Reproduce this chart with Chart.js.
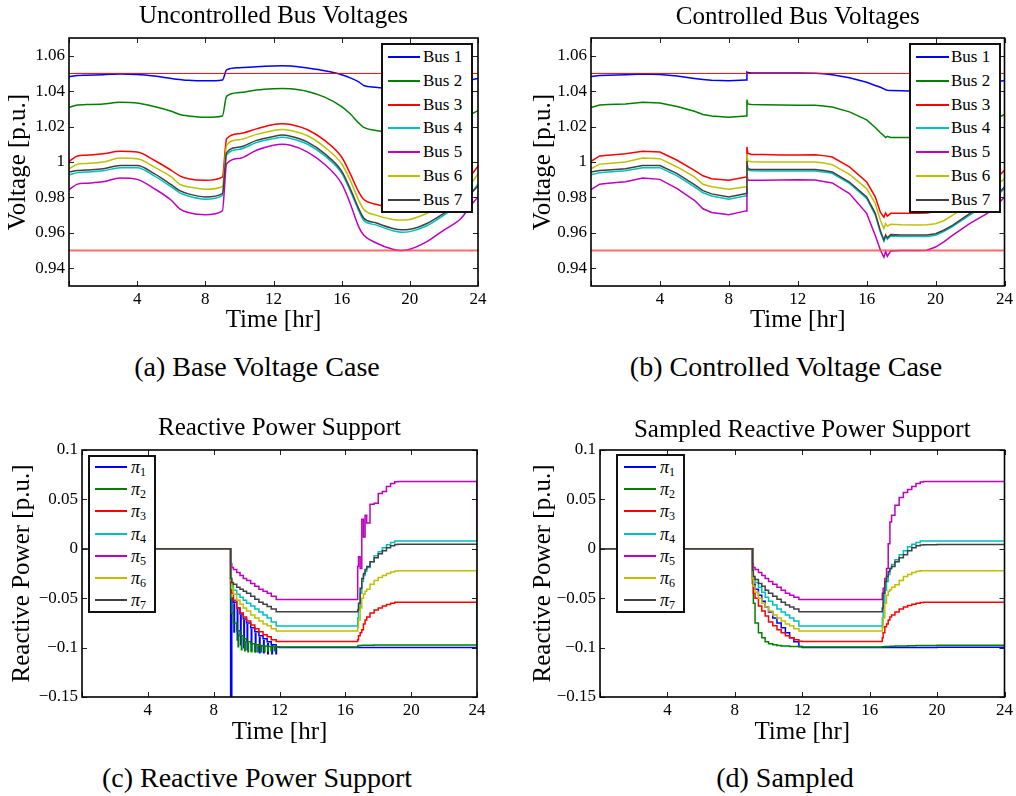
<!DOCTYPE html>
<html>
<head>
<meta charset="utf-8">
<script src="https://cdn.jsdelivr.net/npm/chart.js@4.4.0/dist/chart.umd.min.js"></script>
<style>
    html, body { margin: 0; padding: 0; background: #fff; }
    body { width: 1016px; height: 796px; position: relative; overflow: hidden;
           font-family: "Liberation Serif", "DejaVu Serif", serif; color: #000; }
    canvas { position: absolute; }
    .legend { position: absolute; background: #fff; border: 2px solid #111; box-sizing: border-box; }
    .legend .row { position: absolute; left: 0; right: 0; height: 20px; }
    .legend .swatch { position: absolute; top: 9px; height: 2px; }
    .legend .lbl { position: absolute; top: 0; line-height: 20px; white-space: nowrap; }
    .legend sub { font-size: 12px; vertical-align: -3px; line-height: 0; }
    .caption { position: absolute; width: 508px; text-align: center; font-size: 28px; line-height: 34px; }
</style>
</head>
<body>
<canvas id="chartA" width="508" height="340" style="left:0;top:0"></canvas>
<canvas id="chartB" width="508" height="340" style="left:508px;top:0"></canvas>
<canvas id="chartC" width="508" height="341" style="left:0;top:410px"></canvas>
<canvas id="chartD" width="508" height="341" style="left:508px;top:410px"></canvas>

<div class="caption" style="left:3px;top:350px">(a) Base Voltage Case</div>
<div class="caption" style="left:532px;top:350px">(b) Controlled Voltage Case</div>
<div class="caption" style="left:3px;top:761px">(c) Reactive Power Support</div>
<div class="caption" style="left:531px;top:761px">(d) Sampled</div>

<div class="legend" id="legA"></div>
<div class="legend" id="legB"></div>
<div class="legend" id="legC"></div>
<div class="legend" id="legD"></div>

<script>
/* Four MATLAB-style panels: bus voltages (a, b) and reactive power support (c, d). */

const SERIF = '"Liberation Serif", "DejaVu Serif", serif';
const COLOURS = ['#0000ff', '#008000', '#ff0000', '#00bfbf', '#bf00bf', '#bfbf00', '#404040'];
const BUS_LABELS = ['Bus 1', 'Bus 2', 'Bus 3', 'Bus 4', 'Bus 5', 'Bus 6', 'Bus 7'];
const PI_LABELS = ['1', '2', '3', '4', '5', '6', '7'];

const X_TICKS = [0, 4, 8, 12, 16, 20, 24];
const VOLT_TICKS = [0.94, 0.96, 0.98, 1, 1.02, 1.04, 1.06];
const POWER_TICKS = [-0.15, -0.1, -0.05, 0, 0.05, 0.1];

/* ---- voltage limits ---- */
const LIMIT_T = [0, 24];
const LIMIT_HIGH = [1.05, 1.05];
const LIMIT_LOW = [0.95, 0.95];

/* ---- (a) uncontrolled bus voltages ---- */
const TIME_A = [0, 0.5, 1, 2, 3, 4, 5, 6, 6.5, 7, 8, 9, 9.25, 10, 11, 12, 12.5, 13, 14, 15, 16, 16.5, 17, 17.3,
                18, 19, 19.5, 20, 21, 22, 23, 23.5, 24];
const BUS1_A = [1.0482, 1.0488, 1.0490, 1.0493, 1.0497, 1.0494, 1.0485, 1.0472, 1.0466, 1.0461, 1.0458, 1.0463,
                1.0520, 1.0532, 1.0538, 1.0542, 1.0543, 1.0542, 1.0530, 1.0515, 1.0493, 1.0475, 1.0452, 1.0432,
                1.0422, 1.0414, 1.0412, 1.0414, 1.0425, 1.0438, 1.0455, 1.0462, 1.0472];
const BUS2_A = [1.0308, 1.0322, 1.0324, 1.0327, 1.0337, 1.0333, 1.0313, 1.0286, 1.0268, 1.0260, 1.0252, 1.0260,
                1.0372, 1.0392, 1.0407, 1.0414, 1.0415, 1.0413, 1.0398, 1.0366, 1.0313, 1.0272, 1.0220, 1.0195,
                1.0178, 1.0165, 1.0162, 1.0165, 1.0185, 1.0215, 1.0250, 1.0265, 1.0290];
const BUS3_A = [1.0003, 1.0034, 1.0038, 1.0047, 1.0060, 1.0056, 1.0010, 0.9953, 0.9922, 0.9906, 0.9897, 0.9915,
                1.0131, 1.0160, 1.0187, 1.0212, 1.0216, 1.0212, 1.0182, 1.0122, 1.0028, 0.9934, 0.9831, 0.9788,
                0.9762, 0.9742, 0.9740, 0.9745, 0.9765, 0.9805, 0.9865, 0.9915, 0.9976];
const BUS4_A = [0.9928, 0.9940, 0.9943, 0.9950, 0.9968, 0.9968, 0.9922, 0.9860, 0.9826, 0.9808, 0.9790, 0.9810,
                1.0040, 1.0072, 1.0110, 1.0132, 1.0140, 1.0133, 1.0100, 1.0035, 0.9937, 0.9838, 0.9725, 0.9670,
                0.9645, 0.9612, 0.9604, 0.9607, 0.9640, 0.9700, 0.9768, 0.9812, 0.9875];
const BUS5_A = [0.9844, 0.9875, 0.9880, 0.9888, 0.9910, 0.9902, 0.9850, 0.9784, 0.9736, 0.9715, 0.9702, 0.9724,
                0.9990, 1.0020, 1.0066, 1.0094, 1.0100, 1.0094, 1.0056, 0.9987, 0.9878, 0.9766, 0.9634, 0.9587,
                0.9544, 0.9507, 0.9500, 0.9507, 0.9550, 0.9616, 0.9681, 0.9745, 0.9803];
const BUS6_A = [0.9962, 0.9988, 0.9992, 1.0000, 1.0022, 1.0019, 0.9972, 0.9916, 0.9874, 0.9860, 0.9846, 0.9860,
                1.0094, 1.0126, 1.0156, 1.0178, 1.0184, 1.0178, 1.0148, 1.0084, 0.9990, 0.9897, 0.9784, 0.9732,
                0.9700, 0.9676, 0.9672, 0.9676, 0.9710, 0.9755, 0.9820, 0.9865, 0.9934];
const BUS7_A = [0.9944, 0.9952, 0.9955, 0.9962, 0.9980, 0.9980, 0.9934, 0.9872, 0.9838, 0.9820, 0.9803, 0.9822,
                1.0053, 1.0084, 1.0122, 1.0144, 1.0152, 1.0145, 1.0112, 1.0047, 0.9949, 0.9850, 0.9737, 0.9683,
                0.9657, 0.9625, 0.9617, 0.9620, 0.9653, 0.9710, 0.9775, 0.9815, 0.9865];

/* ---- (b) controlled bus voltages ---- */
const TIME_B = [0, 0.5, 1, 2, 3, 4, 5, 6, 6.5, 7, 8, 9, 9.05, 9.1, 9.3, 10, 11, 12, 13, 13.5, 14, 15, 16, 16.5,
                16.8, 17, 17.1, 17.2, 17.4, 18, 19, 19.5, 20, 20.5, 21, 22, 23, 23.5, 24];
const BUS1_B = [1.0482, 1.0488, 1.0490, 1.0493, 1.0497, 1.0494, 1.0485, 1.0472, 1.0466, 1.0461, 1.0458, 1.0463,
                1.0508, 1.0505, 1.0503, 1.0502, 1.0502, 1.0502, 1.0501, 1.0498, 1.0493, 1.0476, 1.0450, 1.0432,
                1.0422, 1.0413, 1.0408, 1.0405, 1.0404, 1.0402, 1.0400, 1.0400, 1.0402, 1.0408, 1.0415, 1.0430,
                1.0445, 1.0452, 1.0460];
const BUS2_B = [1.0308, 1.0322, 1.0324, 1.0327, 1.0337, 1.0333, 1.0313, 1.0286, 1.0268, 1.0260, 1.0252, 1.0260,
                1.0352, 1.0328, 1.0325, 1.0323, 1.0322, 1.0321, 1.0320, 1.0316, 1.0310, 1.0283, 1.0238, 1.0195,
                1.0165, 1.0148, 1.0138, 1.0145, 1.0138, 1.0138, 1.0138, 1.0138, 1.0140, 1.0148, 1.0158, 1.0185,
                1.0225, 1.0245, 1.0268];
const BUS3_B = [1.0003, 1.0034, 1.0038, 1.0047, 1.0060, 1.0056, 1.0010, 0.9953, 0.9922, 0.9906, 0.9897, 0.9915,
                1.0085, 1.0050, 1.0043, 1.0042, 1.0040, 1.0040, 1.0041, 1.0036, 1.0028, 0.9972, 0.9887, 0.9803,
                0.9715, 0.9688, 0.9712, 0.9695, 0.9710, 0.9710, 0.9710, 0.9712, 0.9720, 0.9740, 0.9765, 0.9820,
                0.9875, 0.9905, 0.9953];
const BUS4_B = [0.9928, 0.9940, 0.9943, 0.9950, 0.9968, 0.9968, 0.9922, 0.9860, 0.9826, 0.9808, 0.9790, 0.9810,
                0.9995, 0.9954, 0.9950, 0.9949, 0.9949, 0.9949, 0.9949, 0.9944, 0.9936, 0.9879, 0.9795, 0.9702,
                0.9602, 0.9552, 0.9580, 0.9564, 0.9582, 0.9580, 0.9580, 0.9580, 0.9587, 0.9608, 0.9636, 0.9702,
                0.9760, 0.9802, 0.9851];
const BUS5_B = [0.9844, 0.9875, 0.9880, 0.9888, 0.9910, 0.9902, 0.9850, 0.9784, 0.9736, 0.9715, 0.9702, 0.9724,
                0.9935, 0.9898, 0.9897, 0.9897, 0.9898, 0.9900, 0.9898, 0.9890, 0.9882, 0.9822, 0.9710, 0.9585,
                0.9502, 0.9462, 0.9495, 0.9468, 0.9498, 0.9500, 0.9500, 0.9502, 0.9520, 0.9550, 0.9587, 0.9653,
                0.9710, 0.9748, 0.9803];
const BUS6_B = [0.9962, 0.9988, 0.9992, 1.0000, 1.0022, 1.0019, 0.9972, 0.9916, 0.9874, 0.9860, 0.9846, 0.9860,
                1.0045, 1.0005, 1.0002, 1.0000, 1.0000, 1.0000, 1.0000, 0.9995, 0.9985, 0.9930, 0.9850, 0.9766,
                0.9670, 0.9625, 0.9652, 0.9638, 0.9648, 0.9646, 0.9645, 0.9646, 0.9652, 0.9670, 0.9700, 0.9765,
                0.9830, 0.9865, 0.9906];
const BUS7_B = [0.9944, 0.9952, 0.9955, 0.9962, 0.9980, 0.9980, 0.9934, 0.9872, 0.9838, 0.9820, 0.9803, 0.9822,
                1.0005, 0.9962, 0.9958, 0.9957, 0.9957, 0.9957, 0.9957, 0.9952, 0.9944, 0.9887, 0.9803, 0.9710,
                0.9610, 0.9560, 0.9588, 0.9572, 0.9590, 0.9588, 0.9588, 0.9588, 0.9595, 0.9616, 0.9644, 0.9710,
                0.9768, 0.9810, 0.9859];

/* ---- (c) reactive power support ---- */
const TIME_C = [0, 9, 9.03, 9.1, 9.2, 9.4, 9.6, 9.8, 10, 10.25, 10.5, 10.75, 11, 11.25, 11.5, 11.8, 12, 14, 16.7,
                16.75, 16.8, 16.9, 17, 17.1, 17.2, 17.3, 17.5, 17.75, 18, 18.25, 18.5, 18.75, 19, 19.2, 20, 22,
                23.97, 24];
const PI1_C = [0, 0, -0.15, -0.05, -0.054, -0.06, -0.066, -0.071, -0.075, -0.08, -0.084, -0.088, -0.091, -0.094,
               -0.097, -0.0995, -0.0998, -0.0998, -0.0998, -0.0998, -0.0998, -0.0998, -0.0998, -0.0998, -0.0998,
               -0.0998, -0.0998, -0.0998, -0.0998, -0.0998, -0.0998, -0.0998, -0.0998, -0.0998, -0.0998, -0.0998,
               -0.0998, -0.0998];
const PI2_C = [0, 0, -0.05, -0.065, -0.075, -0.083, -0.088, -0.091, -0.094, -0.096, -0.097, -0.098, -0.0985,
               -0.099, -0.099, -0.0993, -0.0993, -0.0993, -0.0993, -0.0985, -0.098, -0.0978, -0.0976, -0.0976,
               -0.0975, -0.0975, -0.0975, -0.0974, -0.0974, -0.0974, -0.0974, -0.0974, -0.0973, -0.0973, -0.0973,
               -0.0973, -0.0973, -0.054];
const PI3_C = [0, 0, -0.035, -0.045, -0.052, -0.06, -0.065, -0.069, -0.073, -0.077, -0.081, -0.084, -0.087,
               -0.089, -0.092, -0.0937, -0.0937, -0.0937, -0.0937, -0.092, -0.088, -0.085, -0.082, -0.076, -0.072,
               -0.069, -0.065, -0.062, -0.06, -0.058, -0.0565, -0.055, -0.0542, -0.054, -0.054, -0.054, -0.054,
               -0.022];
const PI4_C = [0, 0, -0.03, -0.037, -0.042, -0.046, -0.049, -0.052, -0.055, -0.058, -0.061, -0.064, -0.067, -0.07,
               -0.074, -0.0782, -0.0782, -0.0782, -0.0782, -0.07, -0.06, -0.045, -0.033, -0.027, -0.023, -0.019,
               -0.013, -0.007, -0.003, 0.001, 0.004, 0.0065, 0.0078, 0.008, 0.008, 0.008, 0.008, 0.008];
const PI5_C = [0, 0, -0.015, -0.019, -0.021, -0.024, -0.027, -0.03, -0.032, -0.035, -0.038, -0.041, -0.043,
               -0.045, -0.048, -0.0512, -0.0512, -0.0512, -0.0512, -0.018, -0.008, -0.02, 0.03, 0.012, 0.034,
               0.026, 0.045, 0.046, 0.056, 0.058, 0.063, 0.066, 0.0678, 0.068, 0.068, 0.068, 0.068, 0.008];
const PI6_C = [0, 0, -0.032, -0.04, -0.046, -0.052, -0.056, -0.06, -0.063, -0.067, -0.07, -0.073, -0.076, -0.078,
               -0.081, -0.0832, -0.0832, -0.0832, -0.0832, -0.08, -0.072, -0.06, -0.05, -0.046, -0.043, -0.041,
               -0.036, -0.032, -0.029, -0.027, -0.025, -0.0235, -0.0225, -0.0223, -0.0223, -0.0223, -0.0223, 0.001];
const PI7_C = [0, 0, -0.03, -0.034, -0.036, -0.039, -0.041, -0.043, -0.045, -0.048, -0.051, -0.054, -0.056,
               -0.0585, -0.061, -0.0637, -0.0637, -0.0637, -0.0637, -0.062, -0.055, -0.04, -0.03, -0.025, -0.021,
               -0.018, -0.013, -0.009, -0.005, -0.002, 0.001, 0.003, 0.0043, 0.0045, 0.0045, 0.0045, 0.0045,
               0.0045];
/* chattering spikes of pi1 and pi2 while the controller settles */
const SPIKE1_T = [9.25, 9.45, 9.65, 9.85, 10.05, 10.3, 10.55, 10.8, 11.05, 11.3, 11.55, 11.8];
const SPIKE1_TOP = [-0.055, -0.061, -0.067, -0.072, -0.076, -0.081, -0.085, -0.089, -0.092, -0.095, -0.097, -0.0995];
const SPIKE1_BOT = [-0.085, -0.093, -0.098, -0.101, -0.103, -0.104, -0.105, -0.106, -0.106, -0.107, -0.107, -0.107];
const SPIKE2_T = [9.5, 9.7, 9.9, 10.1, 10.3, 10.5, 10.7, 10.9, 11.1, 11.3, 11.5, 11.7];
const SPIKE2_TOP = [-0.086, -0.09, -0.093, -0.095, -0.096, -0.097, -0.098, -0.098, -0.0985, -0.099, -0.099, -0.099];
const SPIKE2_BOT = [-0.1, -0.103, -0.104, -0.105, -0.105, -0.105, -0.105, -0.105, -0.105, -0.104, -0.104, -0.104];

/* ---- (d) sampled reactive power support ---- */
const TIME_D = [0, 9, 9.05, 9.1, 9.2, 9.4, 9.6, 9.8, 10, 10.25, 10.5, 10.75, 11, 11.25, 11.5, 11.8, 12, 14, 16.7,
                16.75, 16.8, 16.9, 17, 17.1, 17.2, 17.3, 17.5, 17.75, 18, 18.25, 18.5, 18.75, 19, 19.2, 20, 22, 24];
const PI1_D = [0, 0, -0.03, -0.036, -0.041, -0.047, -0.053, -0.059, -0.064, -0.07, -0.075, -0.08, -0.085, -0.09,
               -0.094, -0.099, -0.0998, -0.0998, -0.0998, -0.0998, -0.0998, -0.0998, -0.0998, -0.0998, -0.0998,
               -0.0998, -0.0998, -0.0998, -0.0998, -0.0998, -0.0998, -0.0998, -0.0998, -0.0998, -0.0997, -0.0996,
               -0.0995];
const PI2_D = [0, 0, -0.035, -0.055, -0.075, -0.085, -0.09, -0.094, -0.096, -0.097, -0.098, -0.0983, -0.0985,
               -0.0988, -0.099, -0.0992, -0.0993, -0.0993, -0.0993, -0.0992, -0.0991, -0.099, -0.0989, -0.0988,
               -0.0987, -0.0986, -0.0985, -0.0984, -0.0983, -0.0982, -0.0981, -0.098, -0.0979, -0.0978, -0.0977,
               -0.0975, -0.0972];
const PI3_D = [0, 0, -0.035, -0.045, -0.05, -0.058, -0.063, -0.068, -0.074, -0.078, -0.082, -0.085, -0.088, -0.09,
               -0.092, -0.0935, -0.0937, -0.0937, -0.0937, -0.09, -0.085, -0.079, -0.076, -0.072, -0.069, -0.067,
               -0.064, -0.061, -0.059, -0.0575, -0.056, -0.055, -0.0543, -0.054, -0.054, -0.054, -0.054];
const PI4_D = [0, 0, -0.025, -0.03, -0.034, -0.039, -0.044, -0.049, -0.053, -0.057, -0.061, -0.064, -0.067, -0.07,
               -0.073, -0.0782, -0.0782, -0.0782, -0.0782, -0.07, -0.055, -0.042, -0.033, -0.026, -0.02, -0.016,
               -0.011, -0.006, -0.002, 0.002, 0.0045, 0.0065, 0.0078, 0.008, 0.008, 0.008, 0.008];
const PI5_D = [0, 0, -0.015, -0.019, -0.021, -0.024, -0.027, -0.03, -0.033, -0.036, -0.039, -0.042, -0.045,
               -0.047, -0.049, -0.0512, -0.0512, -0.0512, -0.0512, -0.045, -0.04, -0.03, -0.02, 0.005, 0.027,
               0.034, 0.044, 0.052, 0.057, 0.06, 0.063, 0.066, 0.0675, 0.068, 0.068, 0.068, 0.068];
const PI6_D = [0, 0, -0.03, -0.038, -0.044, -0.05, -0.055, -0.059, -0.063, -0.067, -0.07, -0.073, -0.076, -0.078,
               -0.081, -0.0832, -0.0832, -0.0832, -0.0832, -0.08, -0.07, -0.055, -0.047, -0.043, -0.0415, -0.039,
               -0.0365, -0.032, -0.028, -0.026, -0.024, -0.0228, -0.0223, -0.0222, -0.0222, -0.0222, -0.0222];
const PI7_D = [0, 0, -0.022, -0.028, -0.031, -0.035, -0.038, -0.042, -0.045, -0.048, -0.051, -0.054, -0.057,
               -0.059, -0.061, -0.0637, -0.0637, -0.0637, -0.0637, -0.06, -0.045, -0.033, -0.028, -0.023, -0.02,
               -0.018, -0.013, -0.009, -0.006, -0.002, 0.001, 0.003, 0.0039, 0.0042, 0.0043, 0.0043, 0.0043];


const pts = (ts, vs) => ts.map((t, i) => ({ x: t, y: vs[i] }));
const spikePts = (ts, top, bot) => ts.flatMap((t, i) => [{ x: t, y: top[i] }, { x: t, y: bot[i] }, { x: t, y: null }]);

function seriesSets(time, rows, extra) {
    // later series sit on top, like MATLAB's plot order
    return rows.map((vals, i) => Object.assign({
        data: pts(time, vals), borderColor: COLOURS[i], borderWidth: 1.5, order: 10 - i,
    }, extra));
}

function limitSets() {
    return [
        { data: pts(LIMIT_T, LIMIT_HIGH), borderColor: '#ff0000', borderWidth: 1, order: 0 },
        { data: pts(LIMIT_T, LIMIT_LOW), borderColor: 'rgba(255,70,70,0.8)', borderWidth: 2, order: 0 },
    ];
}

// inward tick marks on all four sides and a closed box, MATLAB style
const matlabBox = {
    id: 'matlabBox',
    afterDatasetsDraw(chart) {
        const { ctx, chartArea: a, scales: { x, y } } = chart;
        ctx.save();
        ctx.strokeStyle = '#222';
        ctx.lineWidth = 1;
        ctx.beginPath();
        x.ticks.forEach((t) => {
            const px = Math.round(x.getPixelForValue(t.value)) + 0.5;
            ctx.moveTo(px, a.bottom); ctx.lineTo(px, a.bottom - 5);
            ctx.moveTo(px, a.top); ctx.lineTo(px, a.top + 5);
        });
        y.ticks.forEach((t) => {
            const py = Math.round(y.getPixelForValue(t.value)) + 0.5;
            ctx.moveTo(a.left, py); ctx.lineTo(a.left + 5, py);
            ctx.moveTo(a.right, py); ctx.lineTo(a.right - 5, py);
        });
        ctx.stroke();
        ctx.strokeStyle = '#000';
        ctx.lineWidth = 1.6;
        ctx.strokeRect(a.left, a.top, a.right - a.left, a.bottom - a.top);
        ctx.restore();
    },
};

const yFmt = (v) => String(+Number(v).toFixed(2)).replace('-', '\u2212');

function panel(id, cfg) {
    new Chart(document.getElementById(id), {
        type: 'line',
        data: { datasets: cfg.datasets },
        options: {
            responsive: false, animation: false, events: [],
            layout: { padding: { left: 0, top: 0, bottom: 0, right: cfg.padRight } },
            elements: { point: { radius: 0 }, line: { tension: 0, fill: false } },
            plugins: {
                legend: { display: false }, tooltip: { enabled: false },
                title: {
                    display: true, text: cfg.title, fullSize: false, color: '#000',
                    font: { family: SERIF, size: 25, weight: 'normal' },
                    padding: { top: cfg.titleTop, bottom: cfg.titleBottom },
                },
            },
            scales: {
                x: {
                    type: 'linear', min: 0, max: 24,
                    afterFit: (s) => { s.height = 54; },
                    grid: { display: false, drawTicks: false }, border: { display: false },
                    afterBuildTicks: (s) => { s.ticks = X_TICKS.map((v) => ({ value: v })); },
                    ticks: { callback: (v) => (v === 0 ? '' : String(v)), color: '#000', padding: 3,
                             maxRotation: 0, autoSkip: false, font: { family: SERIF, size: 17 } },
                    title: { display: true, text: 'Time [hr]', color: '#000',
                             font: { family: SERIF, size: 25 }, padding: { top: 0, bottom: cfg.xTitlePad } },
                },
                y: {
                    min: cfg.yMin, max: cfg.yMax,
                    afterFit: (s) => { s.width = cfg.yWidth; },
                    afterBuildTicks: (s) => { s.ticks = cfg.yTicks.map((v) => ({ value: v })); },
                    grid: { display: false, drawTicks: false }, border: { display: false },
                    ticks: { callback: yFmt, color: '#000', padding: 4, autoSkip: false,
                             font: { family: SERIF, size: 17 } },
                    title: { display: true, text: cfg.yTitle, color: '#000',
                             font: { family: SERIF, size: 25 }, padding: { top: cfg.yTitlePad, bottom: 0 } },
                },
            },
        },
        plugins: [matlabBox],
    });
}

function legend(id, box, labels) {
    const el = document.getElementById(id);
    Object.assign(el.style, { left: box.left + 'px', top: box.top + 'px', width: box.w + 'px', height: box.h + 'px' });
    el.innerHTML = labels.map((lab, i) => `
        <div class="row" style="top:${box.first + i * box.step - 10}px">
            <span class="swatch" style="left:${box.lineX}px;width:${box.lineW}px;background:${COLOURS[i]}"></span>
            <span class="lbl" style="left:${box.textX}px;font-size:${box.font}px">${lab}</span>
        </div>`).join('');
}

const BUS_ROWS_A = [BUS1_A, BUS2_A, BUS3_A, BUS4_A, BUS5_A, BUS6_A, BUS7_A];
const BUS_ROWS_B = [BUS1_B, BUS2_B, BUS3_B, BUS4_B, BUS5_B, BUS6_B, BUS7_B];
const PI_ROWS_C = [PI1_C, PI2_C, PI3_C, PI4_C, PI5_C, PI6_C, PI7_C];
const PI_ROWS_D = [PI1_D, PI2_D, PI3_D, PI4_D, PI5_D, PI6_D, PI7_D];

const voltAxis = { yMin: 0.93, yMax: 1.07, yTicks: VOLT_TICKS, yTitle: 'Voltage [p.u.]' };
const powerAxis = { yMin: -0.15, yMax: 0.1, yTicks: POWER_TICKS, yTitle: 'Reactive Power [p.u.]' };

panel('chartA', Object.assign({}, voltAxis, {
    title: 'Uncontrolled Bus Voltages', titleTop: 1, titleBottom: 7, padRight: 30,
    yWidth: 69, yTitlePad: 3, xTitlePad: 5,
    datasets: seriesSets(TIME_A, BUS_ROWS_A, { cubicInterpolationMode: 'monotone' }).concat(limitSets()),
}));
panel('chartB', Object.assign({}, voltAxis, {
    title: 'Controlled Bus Voltages', titleTop: 2, titleBottom: 6, padRight: 9,
    yWidth: 83, yTitlePad: 20, xTitlePad: 5,
    datasets: seriesSets(TIME_B, BUS_ROWS_B, {}).concat(limitSets()),
}));
panel('chartC', Object.assign({}, powerAxis, {
    title: 'Reactive Power Support', titleTop: 3, titleBottom: 7, padRight: 31,
    yWidth: 82, yTitlePad: 7, xTitlePad: 4,
    datasets: seriesSets(TIME_C, PI_ROWS_C, { stepped: 'before' }).concat([
        { data: spikePts(SPIKE1_T, SPIKE1_TOP, SPIKE1_BOT), borderColor: COLOURS[0], borderWidth: 2, order: 10 },
        { data: spikePts(SPIKE2_T, SPIKE2_TOP, SPIKE2_BOT), borderColor: COLOURS[1], borderWidth: 2, order: 9 },
    ]),
}));
panel('chartD', Object.assign({}, powerAxis, {
    title: 'Sampled Reactive Power Support', titleTop: 5, titleBottom: 5, padRight: 11,
    yWidth: 92, yTitlePad: 20, xTitlePad: 4,
    datasets: seriesSets(TIME_D, PI_ROWS_D, { stepped: 'before' }),
}));

const piLabels = PI_LABELS.map((n) => `<i>\u03c0</i><sub>${n}</sub>`);
legend('legA', { left: 381, top: 43, w: 92, h: 170, first: 12, step: 23.8, lineX: 5, lineW: 32, textX: 40, font: 17 }, BUS_LABELS);
legend('legB', { left: 909, top: 43, w: 92, h: 170, first: 12, step: 23.8, lineX: 5, lineW: 33, textX: 40, font: 17 }, BUS_LABELS);
legend('legC', { left: 88, top: 455, w: 68, h: 158, first: 10, step: 22.2, lineX: 5, lineW: 32, textX: 41, font: 18 }, piLabels);
legend('legD', { left: 616, top: 454, w: 69, h: 159, first: 11, step: 22.2, lineX: 6, lineW: 32, textX: 42, font: 18 }, piLabels);
</script>
</body>
</html>
